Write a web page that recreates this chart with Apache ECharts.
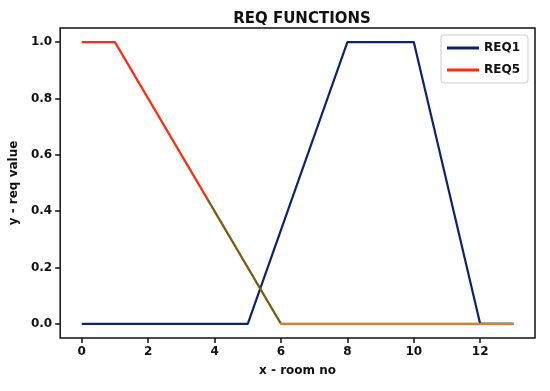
<!DOCTYPE html>
<html><head><meta charset="utf-8">
<script src="https://cdn.jsdelivr.net/npm/echarts@6/dist/echarts.min.js"></script>
<style>html,body{margin:0;padding:0;background:#fff}#c{width:550px;height:391px}</style>
</head><body><div id="c"></div>
<script>
const titleText = 'REQ FUNCTIONS';
const xName = 'x - room no';
const yName = 'y - req value';
const req1 = [[0,0],[5,0],[8,1],[10,1],[12,0],[13,0]];
const req5 = [[0,1],[1,1],[6,0],[13,0]];
const xTicks = [0,2,4,6,8,10,12];
const yTicks = [0,0.2,0.4,0.6,0.8,1.0];

const font = 'DejaVu Sans';
const chart = echarts.init(document.getElementById('c'), null, {renderer:'canvas'});
chart.setOption({
  animation:false,
  backgroundColor:'#fff',
  title:{text:titleText,left:297,top:7,textAlign:'center',textStyle:{fontFamily:font,fontSize:15,fontWeight:'bold',color:'#111'}},
  grid:{left:59,right:15,top:28,bottom:53,show:true,borderColor:'#111',borderWidth:1.5},
  legend:{right:22,top:35,orient:'vertical',itemWidth:32,itemHeight:3,itemGap:10,
    backgroundColor:'#fff',borderColor:'#ccc',borderWidth:1,borderRadius:3,padding:[7,8,7,6],
    textStyle:{fontFamily:font,fontSize:12,fontWeight:'bold',color:'#111'},
    data:[{name:'REQ1',icon:'rect',itemStyle:{color:'#0a2470'}},{name:'REQ5',icon:'rect',itemStyle:{color:'#ff2a10'}}]},
  xAxis:{type:'value',min:-0.65,max:13.65,interval:2,
    name:xName,nameLocation:'middle',nameGap:27,nameTextStyle:{fontFamily:font,fontSize:12,fontWeight:'bold',color:'#111'},
    axisLine:{show:false,onZero:false},splitLine:{show:false},
    axisLabel:{fontFamily:font,fontSize:12,fontWeight:'bold',color:'#111',margin:8,
      customValues:xTicks,formatter:v=>String(v)},
    axisTick:{show:true,inside:false,length:5,customValues:xTicks,lineStyle:{color:'#111',width:1.5}}},
  yAxis:{type:'value',min:-0.05,max:1.05,
    name:yName,nameLocation:'middle',nameGap:40,nameTextStyle:{fontFamily:font,fontSize:12,fontWeight:'bold',color:'#111'},
    axisLine:{show:false,onZero:false},splitLine:{show:false},
    axisLabel:{fontFamily:font,fontSize:12,fontWeight:'bold',color:'#111',margin:8,
      customValues:yTicks,formatter:v=>v.toFixed(1)},
    axisTick:{show:true,inside:false,length:5,customValues:yTicks,lineStyle:{color:'#111',width:1.5}}},
  visualMap:[{show:false,type:'piecewise',seriesIndex:1,dimension:1,
    pieces:[{gt:0.44,color:'#ff2a10'},{gt:0.005,lte:0.44,color:'#7a5a10'},{lte:0.005,color:'#e8782a'}]}],
  series:[
    {name:'REQ1',type:'line',data:req1,symbol:'none',lineStyle:{color:'#0a2470',width:2.2},itemStyle:{color:'#0a2470'},z:2},
    {name:'REQ5',type:'line',data:req5,symbol:'none',lineStyle:{width:2.2},itemStyle:{color:'#ff2a10'},z:3}
  ]
});
</script></body></html>
